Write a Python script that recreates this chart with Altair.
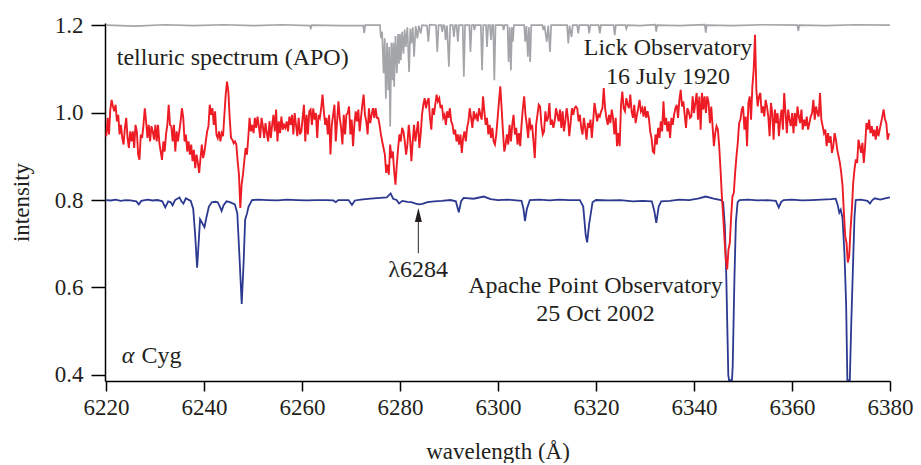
import altair as alt
import pandas as pd

# ---------------- data ----------------
RED_STEP = 0.2707  # sampling step of the Lick spectrum (Å)

red_a_start = 6220.07
red_a = [
    0.946, 0.988, 0.950, 1.007, 1.029, 1.014, 1.003, 1.018, 0.980, 0.995,
    0.950, 0.972, 0.942, 0.927, 0.965, 0.988, 0.942, 0.919, 0.957, 0.934,
    0.957, 0.919, 0.972, 0.957, 0.904, 0.892, 0.950, 0.942, 0.972, 1.010,
    0.980, 0.942, 0.972, 0.934, 0.969, 0.957, 0.938, 0.972, 0.934, 0.972,
    0.930, 0.911, 0.892, 0.934, 0.911, 0.950, 0.972, 1.018, 0.972, 0.969,
    0.934, 0.972, 0.911, 0.957, 0.934, 0.957, 0.980, 1.010, 0.988, 0.934,
    0.950, 0.911, 0.934, 0.904, 0.927, 0.889, 0.915, 0.873, 0.904, 0.885,
    0.862, 0.896, 0.927, 0.896, 0.911, 0.934, 0.957, 0.969, 1.018, 0.995,
    1.010, 0.972, 1.003, 0.950, 0.942, 0.957, 0.934, 0.953, 0.946, 0.995,
    1.041, 1.071, 1.048, 0.988, 0.942, 0.938, 0.930, 0.934, 0.927, 0.889,
    0.858, 0.782, 0.835, 0.858, 0.889, 0.919, 0.904, 0.942, 0.988, 0.957,
    0.972, 0.953, 0.988, 0.965, 0.991, 0.969, 0.942, 0.988, 0.969, 0.942,
    0.976, 0.953, 0.934, 0.980, 0.942, 0.972, 0.995, 0.957, 1.007, 0.934,
    0.980, 0.953, 0.991, 0.961, 0.972, 0.965, 0.980, 0.957, 0.991, 0.972,
    0.995, 0.950, 0.999, 0.972, 0.946, 0.988, 0.950, 0.957,
]
red_b_start = 6260.13
red_b = [
    0.988, 1.018, 0.934, 0.995, 0.950, 1.003, 1.007, 0.972, 1.010, 0.984,
    0.999, 0.942, 0.995, 0.988, 1.010, 1.041, 1.003, 0.972, 0.988, 0.950,
    0.995, 0.904, 0.972, 0.995, 1.018, 0.934, 0.980, 1.026, 0.988, 0.965,
    0.927, 0.995, 0.950, 0.995, 0.999, 1.014, 0.950, 0.984, 0.923, 0.972,
    1.003, 0.980, 1.007, 0.957, 0.988, 1.018, 1.041, 0.995, 0.980, 0.950,
    1.010, 0.976, 0.995, 1.010, 0.988, 1.010, 0.988, 0.988, 0.972, 0.950,
    0.934, 0.919, 0.904, 0.862, 0.881, 0.858, 0.927, 0.896, 0.911, 0.866,
    0.835, 0.881, 0.919, 0.950, 0.934, 0.965, 0.957, 0.934, 0.904, 0.927,
    0.972, 0.942, 0.889, 0.934, 0.972, 0.934, 0.957, 0.980, 0.919, 0.950,
    0.995, 1.018, 1.033, 1.010, 1.026, 1.033, 0.988, 0.961, 1.010, 0.995,
    1.018, 1.041, 1.026, 1.033, 1.010, 1.018, 0.988, 0.995, 0.972, 1.003,
    0.988, 1.010, 0.980, 0.972, 0.950, 0.961, 0.934, 0.950, 0.927, 0.950,
    0.908, 0.942, 0.957, 0.934, 0.965, 0.980, 1.010, 0.988, 0.965, 1.003,
    0.988, 0.995, 0.980, 1.010, 0.995, 0.984, 1.037, 1.003, 0.972, 0.988,
    0.950, 0.972, 0.942, 0.965, 0.934, 0.927, 0.950,
]
red_c_start = 6299.93
red_c = [
    0.988, 1.026, 1.060, 1.010, 0.957, 0.911, 0.927, 0.950, 0.927, 0.972,
    0.934, 0.972, 0.995, 0.950, 0.965, 0.927, 0.953, 0.923, 0.972, 1.010,
    1.037, 0.995, 0.972, 0.942, 0.988, 0.965, 0.972, 0.934, 0.896, 0.972,
    0.995, 1.018, 1.014, 0.972, 0.950, 0.957, 1.003, 0.980, 0.988, 1.022,
    0.972, 0.984, 0.965, 0.980, 1.010, 0.995, 0.980, 1.007, 0.965, 1.003,
    0.957, 0.980, 1.010, 0.988, 0.946, 0.976, 1.010, 0.995, 1.010, 1.014,
    1.010, 0.980, 0.995, 0.965, 0.950, 0.988, 0.965, 0.938, 0.976, 0.965,
    0.984, 0.942, 0.980, 1.022, 1.003, 0.980, 0.995, 0.991, 1.003, 1.010,
    1.056, 1.010, 0.988, 0.972, 0.995, 0.976, 1.007, 0.988, 0.950, 0.988,
    0.923, 0.953, 0.923, 1.018, 1.048, 1.010, 1.003, 1.033, 1.018, 1.010,
    1.041, 1.003, 0.988, 1.018, 0.976, 0.995, 1.010, 1.029, 1.003, 1.010,
    0.991, 1.014, 0.988, 1.003, 0.988, 0.957, 0.942, 0.911, 0.908, 0.950,
    0.927, 0.965, 0.942, 0.980, 0.957, 1.026, 0.972, 0.988, 0.957, 0.980,
    0.942, 0.988, 0.972, 0.995, 1.010, 1.018, 0.988, 1.029, 1.052, 1.014,
    1.026, 0.995, 0.965, 1.010, 1.003, 0.988,
]
red_d_start = 6339.46
red_d = [
    0.991, 1.037, 0.999, 1.022, 1.045, 0.984, 1.037, 0.961, 1.045, 1.007,
    1.037, 0.999, 1.037, 1.022, 0.976, 1.014, 0.969, 0.923, 0.953, 0.969,
    0.961, 0.923, 0.870, 0.809, 0.763, 0.710, 0.664, 0.641, 0.687, 0.702,
    0.763, 0.809, 0.816, 0.862, 0.900, 0.931, 0.976, 0.984, 1.007, 1.014,
    0.961, 0.991, 0.923, 1.022, 1.037, 0.984, 1.060, 1.098, 1.178, 1.052,
    1.014, 1.037, 1.045, 0.999, 1.014, 0.991, 1.029, 1.014, 0.991, 0.946,
    1.022, 0.999, 0.938, 1.007, 0.976, 0.999, 0.946, 0.984, 1.007, 0.961,
    1.045, 0.999, 0.953, 1.007, 0.984, 0.969, 0.999, 0.953, 0.999, 0.969,
    1.014, 0.991, 0.976, 1.007, 0.961, 0.984, 0.969, 0.991, 0.961, 0.976,
    0.991, 0.999, 1.029, 0.984, 1.014, 0.999, 0.991, 1.045, 0.984, 0.969,
    0.953, 0.961, 0.923, 0.953, 0.931, 0.946, 0.908, 0.923, 0.953, 0.938,
    0.915, 0.900, 0.885, 0.862, 0.832, 0.771, 0.717, 0.702, 0.657, 0.672,
    0.733, 0.778, 0.839, 0.870, 0.893, 0.885, 0.938, 0.923, 0.908, 0.931,
    0.885, 0.923, 0.976, 0.961, 0.984, 0.953, 0.969, 0.946, 0.961, 0.938,
    0.969, 0.946, 0.961, 0.976, 0.991, 1.007, 0.984, 0.976, 0.938, 0.953,
]

# Apache Point spectrum of alpha Cyg
apo_wl = [
    6220.0, 6221.0, 6222.0, 6223.0, 6224.0, 6225.0, 6226.2, 6226.7, 6227.2, 6228.5,
    6229.5, 6230.5, 6231.5, 6232.1, 6232.7, 6233.2, 6233.6, 6234.1, 6235.0, 6235.4,
    6235.8, 6236.3, 6236.8, 6237.3, 6237.8, 6238.2, 6238.6, 6238.9, 6239.2, 6239.6,
    6240.1, 6240.5, 6241.0, 6241.6, 6242.3, 6242.8, 6243.2, 6243.6, 6244.0, 6244.6,
    6245.3, 6246.3, 6246.8, 6247.2, 6247.7, 6248.1, 6248.4, 6248.8, 6249.1, 6249.8,
    6251.0, 6253.0, 6255.0, 6257.0, 6259.0, 6261.0, 6263.0, 6265.0, 6266.4, 6266.9,
    6267.4, 6269.5, 6270.2, 6270.8, 6272.0, 6274.0, 6276.0, 6277.3, 6278.1, 6278.6,
    6279.3, 6279.8, 6280.5, 6281.5, 6282.3, 6283.2, 6283.9, 6284.6, 6285.6, 6287.0,
    6288.5, 6290.3, 6291.4, 6292.0, 6292.5, 6293.0, 6295.0, 6297.1, 6298.5, 6300.0,
    6302.0, 6304.8, 6305.2, 6305.5, 6305.9, 6306.5, 6308.5, 6310.5, 6312.5, 6314.5,
    6316.7, 6317.4, 6317.9, 6318.2, 6318.6, 6319.3, 6320.0, 6322.5, 6325.0, 6327.5,
    6329.5, 6331.4, 6331.9, 6332.3, 6332.8, 6333.3, 6335.0, 6337.0, 6339.0, 6340.8,
    6342.4, 6344.0, 6345.5, 6345.95, 6346.3, 6346.6, 6347.0, 6347.15, 6347.75, 6347.9,
    6348.25, 6348.55, 6348.9, 6349.3, 6351.0, 6353.0, 6355.0, 6356.7, 6357.3, 6357.8,
    6358.3, 6360.0, 6362.0, 6364.0, 6366.0, 6368.0, 6368.9, 6369.3, 6369.65, 6369.95,
    6370.3, 6370.7, 6371.05, 6371.3, 6371.8, 6372.1, 6372.45, 6372.75, 6373.0, 6374.0,
    6375.4, 6375.9, 6376.4, 6376.9, 6378.0, 6379.0, 6380.0,
]
apo_val = [
    0.800, 0.799, 0.801, 0.798, 0.800, 0.799, 0.797, 0.790, 0.798, 0.801,
    0.799, 0.800, 0.797, 0.783, 0.797, 0.795, 0.788, 0.800, 0.806, 0.797,
    0.792, 0.804, 0.801, 0.798, 0.780, 0.720, 0.645, 0.700, 0.756, 0.748,
    0.738, 0.760, 0.785, 0.795, 0.796, 0.795, 0.786, 0.775, 0.788, 0.797,
    0.795, 0.790, 0.770, 0.680, 0.562, 0.660, 0.755, 0.770, 0.785, 0.800,
    0.801, 0.800, 0.799, 0.801, 0.800, 0.799, 0.800, 0.800, 0.799, 0.795,
    0.800, 0.800, 0.789, 0.799, 0.801, 0.803, 0.805, 0.806, 0.815, 0.803,
    0.800, 0.792, 0.798, 0.796, 0.795, 0.792, 0.790, 0.791, 0.795, 0.797,
    0.798, 0.800, 0.797, 0.772, 0.798, 0.805, 0.803, 0.808, 0.802, 0.800,
    0.801, 0.798, 0.780, 0.752, 0.780, 0.800, 0.801, 0.799, 0.801, 0.800,
    0.800, 0.785, 0.720, 0.703, 0.745, 0.795, 0.800, 0.799, 0.800, 0.797,
    0.798, 0.797, 0.775, 0.748, 0.785, 0.797, 0.798, 0.801, 0.800, 0.803,
    0.808, 0.803, 0.800, 0.795, 0.740, 0.620, 0.400, 0.388, 0.388, 0.420,
    0.620, 0.750, 0.795, 0.800, 0.801, 0.799, 0.800, 0.798, 0.783, 0.796,
    0.800, 0.801, 0.799, 0.800, 0.801, 0.802, 0.803, 0.790, 0.771, 0.778,
    0.760, 0.680, 0.560, 0.388, 0.388, 0.520, 0.650, 0.760, 0.800, 0.801,
    0.798, 0.792, 0.800, 0.804, 0.801, 0.804, 0.806,
]

# telluric spectrum (APO)
tel_wl = [
    6220.0, 6226.0, 6232.0, 6238.0, 6244.0, 6250.0, 6256.0, 6261.6, 6261.8, 6262.0,
    6268.0, 6272.5, 6272.7, 6272.9, 6275.9, 6276.11, 6276.35, 6276.65, 6276.88, 6277.12,
    6277.36, 6277.60, 6277.80, 6278.00, 6278.24, 6278.48, 6278.65, 6278.81, 6279.08, 6279.36,
    6279.60, 6279.83, 6280.00, 6280.17, 6280.44, 6280.71, 6280.95, 6281.18, 6281.50, 6281.86,
    6282.10, 6282.33, 6282.60, 6282.88, 6283.20, 6283.55, 6283.85, 6284.23, 6284.50, 6285.50,
    6285.79, 6286.05, 6287.35, 6287.61, 6287.87, 6288.40, 6288.63, 6288.85, 6289.10, 6289.30,
    6289.60, 6289.98, 6290.25, 6290.75, 6291.00, 6291.25, 6291.55, 6291.81, 6292.05, 6292.80,
    6293.03, 6293.28, 6294.15, 6294.38, 6294.62, 6295.00, 6295.19, 6295.40, 6296.50, 6296.75,
    6297.00, 6297.55, 6297.76, 6298.00, 6298.35, 6298.58, 6298.80, 6299.03, 6299.25, 6299.50,
    6300.95, 6301.15, 6301.35, 6301.95, 6302.16, 6302.40, 6302.64, 6302.85, 6303.04, 6303.25,
    6305.35, 6305.55, 6305.80, 6306.09, 6306.32, 6306.56, 6306.80, 6309.05, 6309.27, 6309.50,
    6309.95, 6310.25, 6310.62, 6310.85, 6314.10, 6314.35, 6314.60, 6315.02, 6315.25, 6316.15,
    6316.38, 6316.60, 6318.40, 6318.61, 6318.85, 6320.55, 6320.78, 6321.00, 6323.60, 6323.82,
    6324.05, 6326.00, 6326.19, 6326.40, 6329.0, 6332.1, 6332.3, 6332.5, 6337.0, 6342.2,
    6342.4, 6342.6, 6348.0, 6354.0, 6361.1, 6361.3, 6361.5, 6367.0, 6373.0, 6380.0,
]
tel_val = [
    1.200, 1.198, 1.201, 1.199, 1.201, 1.199, 1.201, 1.199, 1.193, 1.200,
    1.199, 1.199, 1.182, 1.200, 1.200, 1.170, 1.185, 1.090, 1.170, 1.032,
    1.160, 1.051, 1.150, 0.968, 1.160, 1.074, 1.160, 1.059, 1.175, 1.090,
    1.180, 1.112, 1.180, 1.120, 1.185, 1.135, 1.190, 1.150, 1.195, 1.093,
    1.192, 1.158, 1.195, 1.128, 1.198, 1.170, 1.199, 1.181, 1.200, 1.199,
    1.162, 1.201, 1.200, 1.139, 1.200, 1.200, 1.185, 1.200, 1.199, 1.166,
    1.199, 1.105, 1.200, 1.200, 1.173, 1.200, 1.200, 1.162, 1.200, 1.200,
    1.082, 1.200, 1.200, 1.139, 1.200, 1.201, 1.189, 1.200, 1.200, 1.097,
    1.200, 1.200, 1.150, 1.200, 1.200, 1.166, 1.200, 1.200, 1.074, 1.200,
    1.200, 1.189, 1.200, 1.200, 1.116, 1.195, 1.097, 1.195, 1.162, 1.200,
    1.200, 1.162, 1.198, 1.128, 1.195, 1.116, 1.200, 1.200, 1.189, 1.199,
    1.162, 1.199, 1.139, 1.200, 1.200, 1.158, 1.199, 1.173, 1.200, 1.200,
    1.181, 1.200, 1.200, 1.181, 1.200, 1.200, 1.181, 1.200, 1.200, 1.177,
    1.200, 1.200, 1.192, 1.200, 1.199, 1.201, 1.185, 1.200, 1.199, 1.201,
    1.183, 1.200, 1.199, 1.201, 1.200, 1.187, 1.200, 1.199, 1.201, 1.200,
]

x_ticks = [6220, 6240, 6260, 6280, 6300, 6320, 6340, 6360, 6380]
y_ticks = [0.4, 0.6, 0.8, 1.0, 1.2]

# annotations
center_labels = ["Lick Observatory", "16 July 1920", "Apache Point Observatory",
                 "25 Oct 2002", "λ6284"]
center_wl = [6334.7, 6334.7, 6319.9, 6319.9, 6283.7]
center_val = [1.132, 1.066, 0.588, 0.523, 0.625]
left_labels = ["telluric spectrum (APO)", "Cyg"]
left_wl = [6222.2, 6227.25]
left_val = [1.109, 0.427]
alpha_label = ["α"]
alpha_wl = [6223.2]
alpha_val = [0.427]
arrow_wl = [6283.75]
arrow_tail = [0.678]
arrow_neck = [0.760]
arrow_head = [0.766]

# ---------------- build tables ----------------
def segment(start, vals):
    return [(start + i * RED_STEP, v) for i, v in enumerate(vals)]

red_rows = (segment(red_a_start, red_a) + segment(red_b_start, red_b)
            + segment(red_c_start, red_c) + segment(red_d_start, red_d))
red_df = pd.DataFrame(red_rows, columns=["wl", "val"])
red_df["order"] = range(len(red_df))
apo_df = pd.DataFrame({"wl": apo_wl, "val": apo_val, "order": range(len(apo_wl))})
tel_df = pd.DataFrame({"wl": tel_wl, "val": tel_val, "order": range(len(tel_wl))})

FONT = "Liberation Serif"
FS = 23
FS_ANN = 24
TXT = "#231f20"

xs = alt.Scale(domain=[6219.8, 6380], nice=False, zero=False)
ys = alt.Scale(domain=[0.386, 1.205], nice=False, zero=False)

x_enc = alt.X("wl:Q", scale=xs, axis=alt.Axis(
    values=x_ticks, title="wavelength (Å)", format="d", labelFlush=False,
    tickSize=10, labelPadding=5, titleY=77, titleBaseline="alphabetic"))
y_enc = alt.Y("val:Q", scale=ys, axis=alt.Axis(
    values=y_ticks, title="intensity", format=".1f", tickSize=14, labelPadding=8,
    titleAngle=270, titleX=-72, titleY=179, titleBaseline="bottom", titleAlign="center"))

blue = alt.Chart(apo_df).mark_line(color="#2b3990", strokeWidth=1.8, clip=True).encode(
    x=x_enc, y=y_enc, order="order:Q")
red = alt.Chart(red_df).mark_line(color="#ed1c24", strokeWidth=1.9, clip=True).encode(
    x="wl:Q", y="val:Q", order="order:Q")
gray = alt.Chart(tel_df).mark_line(color="#a3a5a8", strokeWidth=1.7, clip=True).encode(
    x="wl:Q", y="val:Q", order="order:Q")

ctext = alt.Chart(pd.DataFrame({"wl": center_wl, "val": center_val, "t": center_labels})).mark_text(
    font=FONT, fontSize=FS_ANN, color=TXT, align="center", baseline="alphabetic").encode(
    x="wl:Q", y="val:Q", text="t:N")
ltext = alt.Chart(pd.DataFrame({"wl": left_wl, "val": left_val, "t": left_labels})).mark_text(
    font=FONT, fontSize=FS_ANN, color=TXT, align="left", baseline="alphabetic").encode(
    x="wl:Q", y="val:Q", text="t:N")
atext = alt.Chart(pd.DataFrame({"wl": alpha_wl, "val": alpha_val, "t": alpha_label})).mark_text(
    font=FONT, fontSize=FS_ANN, color=TXT, align="left", baseline="alphabetic", fontStyle="italic").encode(
    x="wl:Q", y="val:Q", text="t:N")

arrow_df = pd.DataFrame({"wl": arrow_wl, "v1": arrow_tail, "v2": arrow_neck, "vh": arrow_head})
shaft = alt.Chart(arrow_df).mark_rule(color="#3a3a3a", strokeWidth=1.1).encode(
    x="wl:Q", y="v1:Q", y2="v2:Q")
head = alt.Chart(arrow_df).mark_point(
    shape="M0,-1L0.5,1L-0.5,1Z", filled=True, color="#231f20", size=196, opacity=1).encode(
    x="wl:Q", y="vh:Q")

chart = alt.layer(blue, red, gray, shaft, head, ctext, ltext, atext).properties(
    width=785, height=358,
    autosize=alt.AutoSizeParams(type="none"),
    padding={"left": 97, "top": 15, "right": 23, "bottom": 82},
).configure_view(stroke=None).configure_axis(
    grid=False, domainColor="black", tickColor="black", domainWidth=1.5, tickWidth=1.5,
    labelFont=FONT, labelFontSize=FS, labelColor=TXT,
    titleFont=FONT, titleFontSize=FS, titleFontWeight="normal", titleColor=TXT,
)

chart.save("out.html", embed_options={"renderer": "svg", "actions": False})
